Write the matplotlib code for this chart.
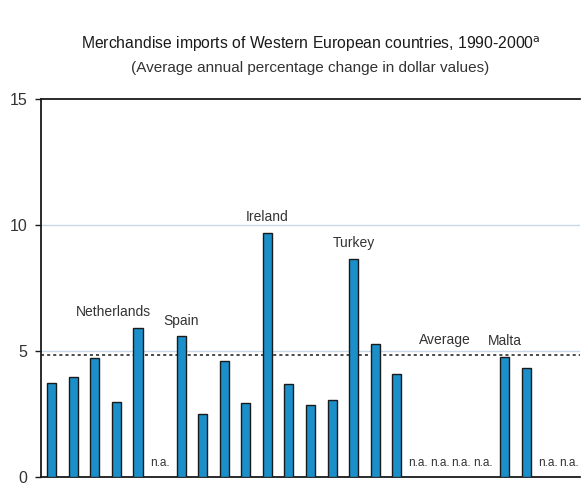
import matplotlib.pyplot as plt
import numpy as np

plt.rcParams['font.family'] = ['Liberation Sans', 'DejaVu Sans']

# 25 slots, None = n.a.
values = [3.74, 3.97, 4.72, 2.97, 5.90, None, 5.58, 2.49, 4.61, 2.92,
          9.70, 3.67, 2.84, 3.04, 8.66, 5.29, 4.08, None, None, None,
          None, 4.75, 4.31, None, None]
average = 4.85
# labelled bars: (slot, text)
labels = [(4, 'Netherlands'), (6, 'Spain'), (10, 'Ireland'), (14, 'Turkey'), (21, 'Malta')]
yticks = [0, 5, 10, 15]

fig = plt.figure(figsize=(5.81, 4.83), dpi=100)
ax = fig.add_axes([41 / 581, 6.3 / 483, 539 / 581, 377.4 / 483])

x = np.arange(len(values))
heights = [v if v is not None else 0 for v in values]
bars = ax.bar(x, heights, width=0.42, color='#1a8fca', edgecolor='#1a1a1a', linewidth=1.0, zorder=3)
for i, v in enumerate(values):
    if v is None:
        bars[i].set_visible(False)
        ax.text(i, 0.3, 'n.a.', ha='center', va='bottom', fontsize=8.5, color='#333333')

for g in [5, 10]:
    ax.axhline(g, color='#c9d9e8', linewidth=1.0, zorder=1)
ax.axhline(average, color='#1a1a1a', linestyle=(0, (2, 2)), linewidth=1.1, zorder=2)
ax.text(18.25, average + 0.3, 'Average', ha='center', va='bottom', fontsize=10, color='#333333')

for i, t in labels:
    dx = -1.15 if t == 'Netherlands' else 0
    ax.text(i + dx, values[i] + 0.35, t, ha='center', va='bottom', fontsize=10, color='#333333')

ax.set_xlim(-0.5, 24.5)
ax.set_ylim(0, 15)
ax.set_yticks(yticks)
ax.set_xticks([])
ax.tick_params(axis='y', length=4, width=1, labelsize=11.5, colors='#1a1a1a', labelcolor='#333333', pad=6)
ax.spines['right'].set_visible(False)
for s in ['left', 'top', 'bottom']:
    ax.spines[s].set_linewidth(1.3)
    ax.spines[s].set_color('#1a1a1a')

cx = 310.5 / 581
fig.text(cx, 1 - 44 / 483, 'Merchandise imports of Western European countries, 1990-2000$^{\\mathrm{a}}$',
         ha='center', va='center', fontsize=11.3, color='#1a1a1a')
fig.text(cx, 1 - 68 / 483, '(Average annual percentage change in dollar values)',
         ha='center', va='center', fontsize=11, color='#333333')

fig.savefig('out.png', dpi=100)
